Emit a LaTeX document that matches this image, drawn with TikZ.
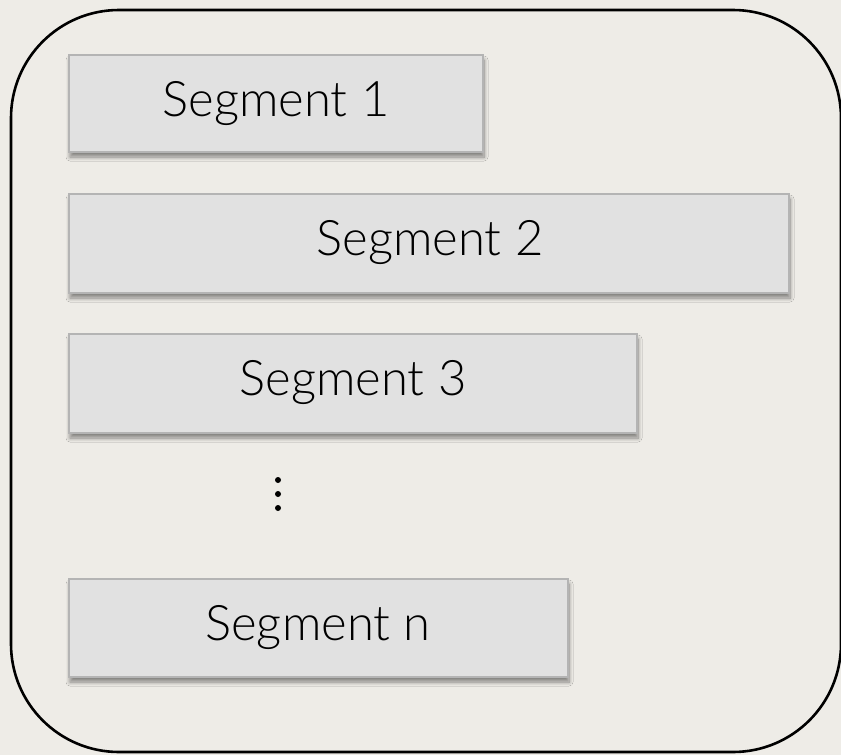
\documentclass[tikz,border=0pt]{standalone}
\usepackage{fontspec}
\setmainfont{Lato}[UprightFont=* Light]
\usetikzlibrary{shadows.blur}
\definecolor{paper}{HTML}{EEECE7}
\definecolor{segfill}{HTML}{E1E1E1}
\definecolor{segedge}{HTML}{B4B4B4}
\tikzset{
  segbox/.style={draw=segedge, line width=2pt, fill=segfill,
    blur shadow={shadow xshift=1pt, shadow yshift=-5pt,
      shadow blur radius=4pt, shadow blur steps=8, shadow opacity=45}},
  seglabel/.style={font=\fontsize{49}{52}\selectfont, text=black},
  frame/.style={draw=black, line width=2.6pt, rounded corners=108pt},
  dot/.style={fill=black}
}
\begin{document}
\begin{tikzpicture}[x=1pt, y=-1pt]
  \useasboundingbox (0,0) rectangle (841,755);
  \fill[paper] (0,0) rectangle (841,755);

  % outer container
  \draw[frame] (11,10) rectangle (841,752);

  % segments
  \path[segbox] (69,55) rectangle (483,152);
  \node[seglabel] (s1) at (276,104) {Segment 1};

  \path[segbox] (69,194) rectangle (789,293);
  \node[seglabel] (s2) at (430,243) {Segment 2};

  \path[segbox] (69,334) rectangle (637,433);
  \node[seglabel] (s3) at (353,383) {Segment 3};

  \path[segbox] (69,579) rectangle (568,677);
  \node[seglabel] (sn) at (318,628) {Segment n};

  % vertical ellipsis
  \fill[dot] (278,480) circle (3pt);
  \fill[dot] (278,494) circle (3pt);
  \fill[dot] (278,508) circle (3pt);
\end{tikzpicture}
\end{document}
